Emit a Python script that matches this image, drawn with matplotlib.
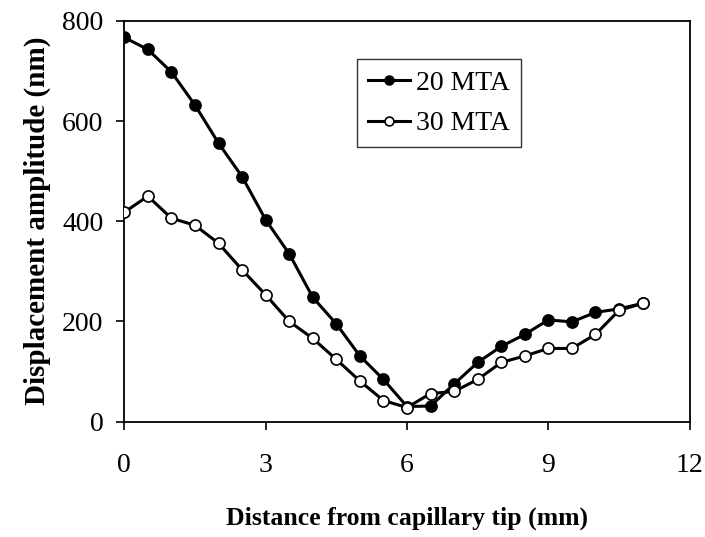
import matplotlib
matplotlib.use("Agg")
import matplotlib.pyplot as plt

# distance from capillary tip (mm), 0.5 mm steps
distance = [0, 0.5, 1, 1.5, 2, 2.5, 3, 3.5, 4, 4.5, 5, 5.5,
            6, 6.5, 7, 7.5, 8, 8.5, 9, 9.5, 10, 10.5, 11]

# displacement amplitude (nm)
mta_20 = [767, 743, 698, 632, 556, 489, 403, 335, 248, 195, 131, 84,
          30, 31, 75, 118, 150, 174, 203, 199, 218, 225, 236]
mta_30 = [418, 450, 406, 392, 356, 303, 253, 200, 166, 124, 81, 42,
          28, 56, 60, 84, 118, 131, 146, 146, 174, 222, 236]

series_labels = ["20 MTA", "30 MTA"]
x_ticks = [0, 3, 6, 9, 12]
y_ticks = [0, 200, 400, 600, 800]

plt.rcParams['font.family'] = ['Liberation Serif', 'DejaVu Serif']

fig = plt.figure(figsize=(7.05, 5.37), dpi=100)
ax = fig.add_axes([0.1763, 0.215, 0.802, 0.746])

ax.plot(distance, mta_20, color='black', lw=2.2, marker='o', ms=8,
        mfc='black', mec='black', mew=1.2, label=series_labels[0], zorder=3)
ax.plot(distance, mta_30, color='black', lw=2.2, marker='o', ms=8,
        mfc='white', mec='black', mew=1.2, label=series_labels[1], zorder=4)

ax.set_xlim(0, 12)
ax.set_ylim(0, 800)
ax.set_xticks(x_ticks)
ax.set_yticks(y_ticks)
ax.tick_params(direction='out', length=6, width=1.2, labelsize=20,
               top=False, right=False)
ax.tick_params(axis='x', pad=17)
ax.tick_params(axis='y', pad=9)
for s in ax.spines.values():
    s.set_linewidth(1.3)

ax.set_xlabel("Distance from capillary tip (mm)", fontsize=18.5,
              fontweight='bold', labelpad=20)
ax.set_ylabel("Displacement amplitude (nm)", fontsize=21,
              fontweight='bold', labelpad=8)

leg = ax.legend(loc='upper left', bbox_to_anchor=(0.412, 0.905),
                borderaxespad=0, fancybox=False, edgecolor='black',
                fontsize=20, handlelength=1.5, handletextpad=0.22,
                borderpad=0.4, labelspacing=0.55, markerscale=0.8)
leg.get_frame().set_linewidth(1.0)

fig.savefig("out.png", dpi=100)
